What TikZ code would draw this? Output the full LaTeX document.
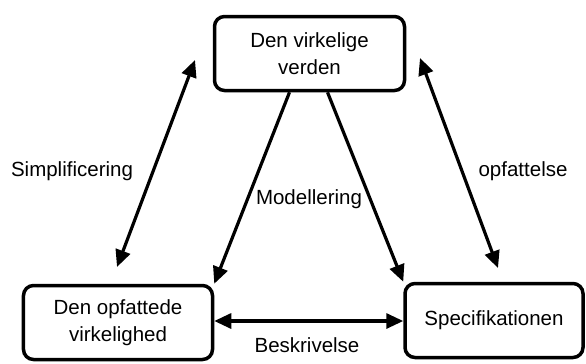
\documentclass[tikz,border=0pt]{standalone}
\usepackage{fontspec}
\setmainfont{Liberation Sans}
\usetikzlibrary{arrows.meta,calc}
\begin{document}
\begin{tikzpicture}[x=1bp,y=-1bp,
  box/.style={draw=black, line width=3.5bp, rounded corners=10bp, fill=white,
    align=center, inner sep=0pt, font=\fontsize{20.5bp}{27bp}\selectfont},
  lbl/.style={font=\fontsize{20.5bp}{24bp}\selectfont, inner sep=1pt},
  tip/.style={},
  link/.style={line width=3.2bp, -{Triangle[length=17bp,width=15bp]}},
  dlink/.style={line width=3.2bp, {Triangle[length=17bp,width=15bp]}-{Triangle[length=17bp,width=15bp]}}]
  \useasboundingbox (0,0) rectangle (586,363);

  % the three concepts
  \node[box, minimum width=190bp, minimum height=74bp] (world) at (309.5,53.5) {Den virkelige\\verden};
  \node[box, minimum width=189bp, minimum height=74bp] (perceived) at (118,322.5) {Den opfattede\\virkelighed};
  \node[box, minimum width=178bp, minimum height=74bp] (spec) at (494,320.5) {Specifikationen};

  % free ends of the side arrows
  \coordinate (simpTop) at (195,60);
  \coordinate (simpBot) at (117,267);
  \coordinate (opfTop) at (420,58);
  \coordinate (opfBot) at (498,268);

  % modelling arrows from the real world
  \draw[link] ([xshift=-20bp]world.south) -- (perceived.north east);
  \draw[link] ([xshift=18bp]world.south) -- (spec.north west);

  % side arrows
  \draw[dlink] (simpBot) -- (simpTop);
  \draw[dlink] (opfTop) -- (opfBot);

  % description arrow
  \draw[dlink] ([yshift=1.5bp]perceived.east) -- ([yshift=1.5bp]perceived.east -| spec.west);

  % labels
  \node[lbl] (lsimp) at (72,171) {Simplificering};
  \node[lbl] (lopf) at (523,171) {opfattelse};
  \node[lbl] (lmod) at (309,199) {Modellering};
  \node[lbl] (lbes) at (307,345) {Beskrivelse};
\end{tikzpicture}
\end{document}
